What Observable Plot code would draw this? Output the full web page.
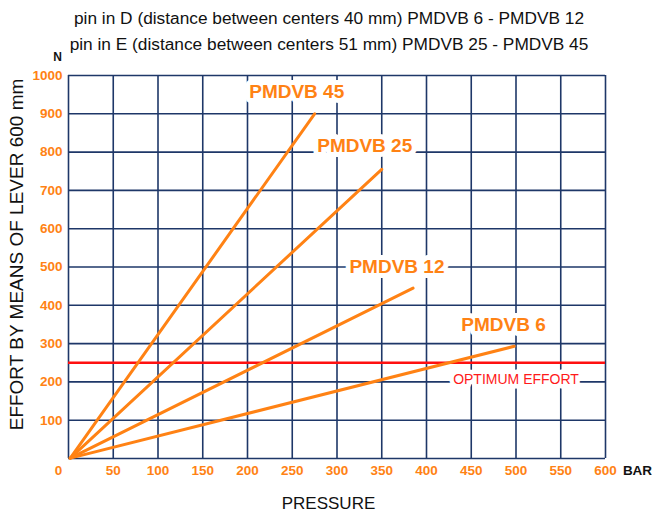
<!DOCTYPE html>
<html>
<head>
<meta charset="utf-8">
<script src="https://cdn.jsdelivr.net/npm/d3@7"></script>
<script src="https://cdn.jsdelivr.net/npm/@observablehq/plot@0.6"></script>
<style>
  html, body { margin: 0; padding: 0; background: #fff; }
  #chart svg { display: block; }
</style>
</head>
<body>
<div id="chart"></div>
<script>
// ---- data ----
const seriesNames = ["PMDVB 45", "PMDVB 25", "PMDVB 12", "PMDVB 6"];
const startPressure = [2, 2, 2, 2];
const startEffort = [1, 1, 1, 1];
const endPressure = [275, 350, 385, 498];
const endEffort = [900, 755, 445, 293];
const labelPressure = [255, 331, 367, 486];
const labelEffort = [956, 815, 500, 349];
const optimumEffort = 250;
const optimumLabel = "OPTIMUM EFFORT";
const xTicks = [0, 50, 100, 150, 200, 250, 300, 350, 400, 450, 500, 550, 600];
const yTicks = [100, 200, 300, 400, 500, 600, 700, 800, 900, 1000];
const yGrid = [0, 100, 200, 300, 400, 500, 600, 700, 800, 900, 1000];
const titleLines = [
  "pin in D (distance between centers 40 mm) PMDVB 6 - PMDVB 12",
  "pin in E (distance between centers 51 mm) PMDVB 25 - PMDVB 45"
];
const xTitle = "PRESSURE";
const yTitle = "EFFORT BY MEANS OF LEVER 600 mm";
const xUnit = "BAR";
const yUnit = "N";

// ---- build ----
const lines = [];
seriesNames.forEach((s, i) => {
  lines.push({series: s, x: startPressure[i], y: startEffort[i]});
  lines.push({series: s, x: endPressure[i], y: endEffort[i]});
});
const labels = seriesNames.map((s, i) => ({name: s, x: labelPressure[i], y: labelEffort[i]}));

const ORANGE = "#ff8214";
const NAVY = "#1e3768";
const FONT = "Liberation Sans, Arial, sans-serif";

const chart = Plot.plot({
  width: 652,
  height: 513,
  marginLeft: 68,
  marginRight: 47,
  marginTop: 75,
  marginBottom: 55,
  style: {fontFamily: FONT, background: "#fff"},
  x: {domain: [0, 600], axis: null},
  y: {domain: [0, 1000], axis: null},
  marks: [
    Plot.ruleX(xTicks, {x: d => d, stroke: NAVY, strokeWidth: 1.6}),
    Plot.ruleY(yGrid, {y: d => d, stroke: NAVY, strokeWidth: 1.6}),
    Plot.ruleY([optimumEffort], {y: d => d, stroke: "#ff1010", strokeWidth: 2.6}),
    Plot.text([optimumLabel], {x: 500, y: 206, text: d => d, fill: "#ff1a1a", fontSize: 14, stroke: "white", strokeWidth: 9}),
    Plot.line(lines, {x: "x", y: "y", z: "series", stroke: ORANGE, strokeWidth: 3, strokeLinecap: "round"}),
    Plot.text(labels, {x: "x", y: "y", text: "name", fill: ORANGE, fontSize: 19, fontWeight: "bold", stroke: "white", strokeWidth: 10}),
    // tick labels
    Plot.text(xTicks.filter(d => d !== 0), {x: d => d, text: d => String(d), frameAnchor: "bottom", lineAnchor: "middle", dy: 12, fill: ORANGE, fontSize: 13.5, fontWeight: "bold"}),
    Plot.text([0], {x: d => d, text: d => String(d), frameAnchor: "bottom", lineAnchor: "middle", dy: 12, dx: -10, fill: ORANGE, fontSize: 13.5, fontWeight: "bold"}),
    Plot.text(yTicks, {y: d => d, text: d => String(d), frameAnchor: "left", lineAnchor: "middle", dx: -6, textAnchor: "end", fill: ORANGE, fontSize: 13.5, fontWeight: "bold"}),
    // units
    Plot.text([xUnit], {text: d => d, frameAnchor: "bottom-right", lineAnchor: "middle", textAnchor: "middle", dx: 32, dy: 12, fill: "#111", fontSize: 13.5, fontWeight: "bold"}),
    Plot.text([yUnit], {text: d => d, frameAnchor: "top-left", lineAnchor: "middle", textAnchor: "middle", dx: -11, dy: -18, fill: "#111", fontSize: 12, fontWeight: "bold"}),
    // axis titles
    Plot.text([xTitle], {text: d => d, frameAnchor: "bottom", lineAnchor: "middle", textAnchor: "middle", dx: -8.5, dy: 45, fill: "#111", fontSize: 17}),
    Plot.text([yTitle], {text: d => d, frameAnchor: "left", lineAnchor: "middle", textAnchor: "middle", dx: -52, dy: -12.5, rotate: -90, fill: "#111", fontSize: 19}),
    // titles
    Plot.text([titleLines[0]], {text: d => d, frameAnchor: "top", lineAnchor: "middle", textAnchor: "middle", dx: -8, dy: -57, fill: "#111", fontSize: 17.3}),
    Plot.text([titleLines[1]], {text: d => d, frameAnchor: "top", lineAnchor: "middle", textAnchor: "middle", dx: -8, dy: -31, fill: "#111", fontSize: 17.3})
  ]
});
document.getElementById("chart").appendChild(chart);
</script>
</body>
</html>
